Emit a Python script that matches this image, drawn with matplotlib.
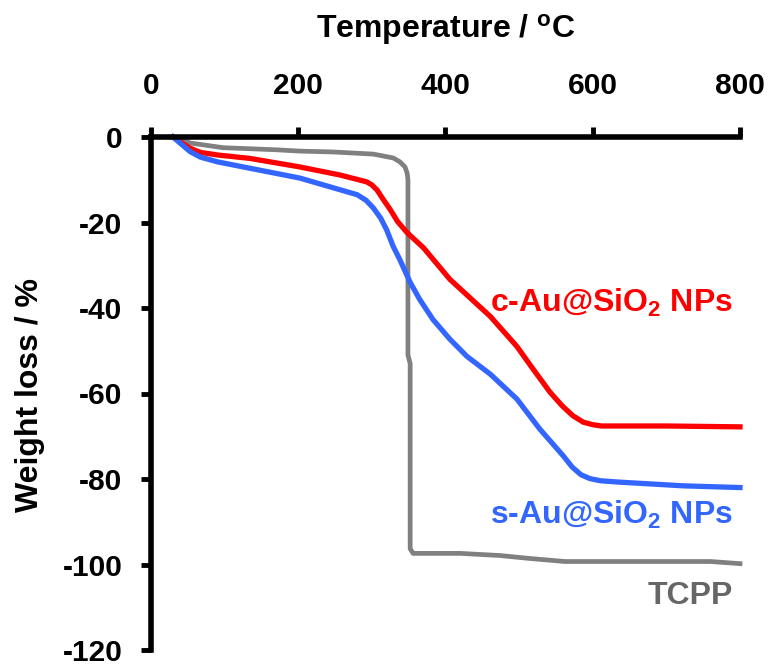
import matplotlib

matplotlib.use("Agg")
import matplotlib.pyplot as plt

# ---------- data ----------
c_temp = [30, 40, 53, 67, 90, 134, 202, 257, 293, 300, 307, 315, 325, 335,
          348, 370, 406, 461, 497, 519, 542, 558, 573, 587, 600, 612, 700, 800]
c_loss = [0, -1.2, -2.6, -3.6, -4.2, -5.0, -7.0, -8.9, -10.5, -11.2, -12.4,
          -14.5, -17, -19.8, -22.4, -25.9, -33.3, -42, -49, -54.3, -59.7,
          -62.8, -65.2, -66.7, -67.3, -67.6, -67.6, -67.8]

s_temp = [30, 40, 53, 67, 90, 134, 202, 234, 280, 292, 302, 312, 320, 329,
          338, 352, 365, 383, 406, 429, 461, 497, 528, 560, 572, 584, 596,
          610, 633, 723, 800]
s_loss = [0, -1.5, -3.4, -4.7, -5.8, -7.3, -9.6, -11.2, -13.5, -14.8, -16.6,
          -19, -21.7, -25.6, -28.7, -34, -38, -42.7, -47.3, -51.3, -55.5,
          -61.3, -68.3, -74.6, -77.2, -79.0, -79.9, -80.4, -80.7, -81.6, -82]

tcpp_temp = [26, 44, 53, 98, 171, 202, 247, 302, 329, 338, 345, 348, 349,
             349, 352, 352, 356, 420, 474, 515, 562, 760, 800]
tcpp_loss = [0, -0.7, -1.4, -2.5, -3.0, -3.3, -3.5, -4.0, -4.9, -5.8, -7.0,
             -8.5, -10, -51, -53, -96.3, -97.4, -97.4, -97.9, -98.6, -99.3,
             -99.3, -99.8]

x_ticks = [0, 200, 400, 600, 800]
y_ticks = [0, -20, -40, -60, -80, -100, -120]

# ---------- style ----------
plt.rcParams.update(
    {
        "font.family": "Liberation Sans",
        "font.weight": "bold",
        "font.size": 21,
        "axes.unicode_minus": False,
        "mathtext.fontset": "custom",
        "mathtext.rm": "Liberation Sans:bold",
        "mathtext.it": "Liberation Sans:bold",
        "mathtext.bf": "Liberation Sans:bold",
    }
)

RED = "#FF0000"
BLUE = "#3366FF"
GRAY = "#808080"
LABEL_FS = 23

fig = plt.figure(figsize=(7.71, 6.68), dpi=100)
ax = fig.add_axes([151 / 771, 1 - 650 / 668, 589 / 771, 513 / 668])

ax.plot(tcpp_temp, tcpp_loss, color=GRAY, lw=3.4, clip_on=False,
        solid_joinstyle="round")
ax.plot(c_temp, c_loss, color=RED, lw=3.8, clip_on=False,
        solid_joinstyle="round")
ax.plot(s_temp, s_loss, color=BLUE, lw=3.8, clip_on=False,
        solid_joinstyle="round")

ax.set_xlim(0, 800)
ax.set_ylim(-120, 0)
ax.set_xticks(x_ticks)
ax.set_yticks(y_ticks)

ax.xaxis.tick_top()
for side in ["right", "bottom"]:
    ax.spines[side].set_visible(False)
for side in ["left", "top"]:
    ax.spines[side].set_linewidth(4.0)
    ax.spines[side].set_capstyle("projecting")

ax.tick_params(axis="both", direction="out", length=7.5, width=3.5,
               labelsize=21.5)
ax.tick_params(axis="x", pad=19)
ax.tick_params(axis="y", pad=13)

fig.text(445.5 / 771, 1 - 30 / 668, "Temperature / $^{\\mathrm{o}}$C",
         ha="center", va="center", fontsize=LABEL_FS, fontweight="bold")
fig.text(30 / 771, 1 - 395 / 668, "Weight loss / %", rotation=90,
         ha="center", va="center", fontsize=LABEL_FS, fontweight="bold")

ax.text(790, -41, "c-Au@SiO$_2$ NPs", color=RED, ha="right",
        va="baseline", fontsize=LABEL_FS, fontweight="bold")
ax.text(790, -90.5, "s-Au@SiO$_2$ NPs", color=BLUE, ha="right",
        va="baseline", fontsize=LABEL_FS, fontweight="bold")
ax.text(790, -109.2, "TCPP", color="#666666", ha="right",
        va="baseline", fontsize=LABEL_FS, fontweight="bold")

fig.savefig("out.png", dpi=100)
